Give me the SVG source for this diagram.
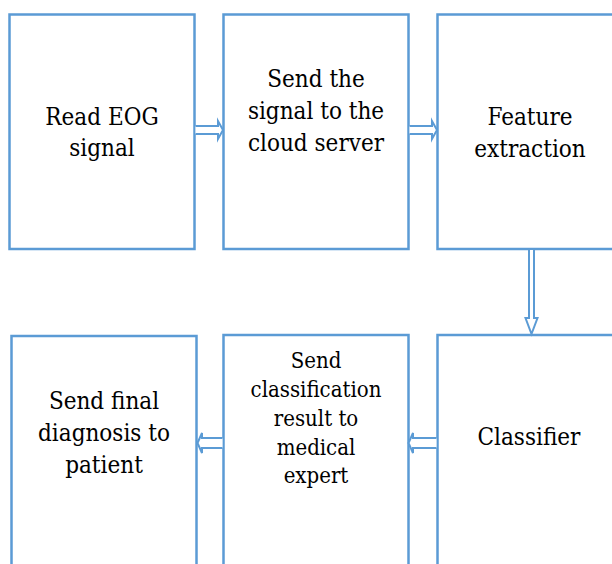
<svg xmlns="http://www.w3.org/2000/svg" width="612" height="564" viewBox="0 0 612 564">
<style>
.box{fill:#fff;stroke:#5b9bd5;stroke-width:2.5}
.arr{fill:#fff;stroke:#5b9bd5;stroke-width:2;stroke-linejoin:miter}
.t{font-family:'DejaVu Serif Condensed','DejaVu Serif',serif;font-size:24px;fill:#000;text-anchor:middle}
.s{font-size:22px}
</style>
<rect width="612" height="564" fill="#fff"/>
<g id="n1"><rect class="box" x="9.5" y="14.5" width="185" height="234.5"/>
<text class="t" x="102" y="124.5">Read EOG</text><text class="t" x="102" y="156">signal</text></g>
<g id="n2"><rect class="box" x="223.5" y="14.5" width="185" height="234.5"/>
<text class="t" x="316" y="86.5">Send the</text><text class="t" x="316" y="118.5">signal to the</text><text class="t" x="316" y="150.5">cloud server</text></g>
<g id="n3"><rect class="box" x="437.5" y="14.5" width="190" height="234.5"/>
<text class="t" x="530" y="124.5">Feature</text><text class="t" x="530" y="156.5">extraction</text></g>
<g id="n6"><rect class="box" x="437.5" y="335" width="190" height="240"/>
<text class="t" x="529" y="445">Classifier</text></g>
<g id="n5"><rect class="box" x="223.5" y="335" width="185" height="240"/>
<text class="t s" x="316" y="368">Send</text><text class="t s" x="316" y="397">classification</text><text class="t s" x="316" y="426">result to</text><text class="t s" x="316" y="455">medical</text><text class="t s" x="316" y="483">expert</text></g>
<g id="n4"><rect class="box" x="11.5" y="336" width="185" height="240"/>
<text class="t" x="104" y="408.5">Send final</text><text class="t" x="104" y="441">diagnosis to</text><text class="t" x="104" y="472.5">patient</text></g>
<g id="connectors">
<path class="arr" d="M195.5,126 H218 V121 L223,130 L218,139 V134 H195.5"/>
<path class="arr" d="M409.5,126 H432 V121 L437,130 L432,139 V134 H409.5"/>
<path class="arr" d="M529,250 V318 H525.5 L531.5,334 L537.5,318 H534 V250"/>
<path class="arr" d="M436.5,438 H413 V433 L408.5,443 L413,453 V448 H436.5"/>
<path class="arr" d="M222.5,438 H202 V433 L197.5,443 L202,453 V448 H222.5"/>
</g>
</svg>
